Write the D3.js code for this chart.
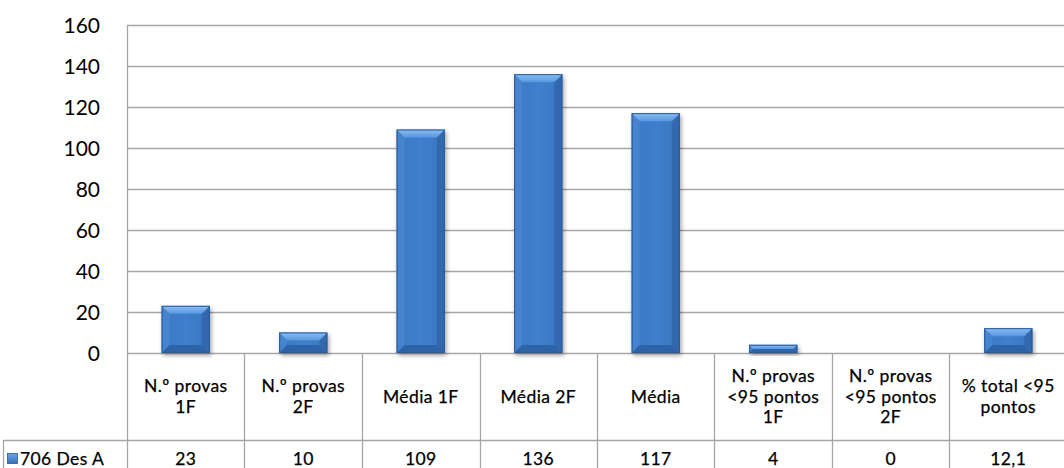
<!DOCTYPE html>
<html>
<head>
<meta charset="utf-8">
<script src="https://cdn.jsdelivr.net/npm/d3@7"></script>
<style>
  html, body { margin: 0; padding: 0; background: #fff; }
  svg { display: block; }
  text { font-family: Lato, "Open Sans", sans-serif; fill: #000; }
</style>
</head>
<body>
<svg id="chart" width="1064" height="468"></svg>
<script>
// Chart data
const categories = [
  ["N.º provas", "1F"],
  ["N.º provas", "2F"],
  ["Média 1F"],
  ["Média 2F"],
  ["Média"],
  ["N.º provas", "<95 pontos", "1F"],
  ["N.º provas", "<95 pontos", "2F"],
  ["% total <95", "pontos"]
];
const values = [23, 10, 109, 136, 117, 4, 0, 12.1];
const seriesName = "706 Des A";
const yTicks = [0, 20, 40, 60, 80, 100, 120, 140, 160];

const ptFormat = d3.formatLocale({decimal: ",", thousands: ".", grouping: [3], currency: ["", " €"]}).format("~f");

const svg = d3.select("#chart");
const W = 1064, H = 468;
const plotLeft = 127, plotRight = 1067, plotTop = 25, plotBottom = 353;
const headerBottom = 440, tableLeft = 3;
const gridColor = "#a6a6a6";
const tableFont = 17.5;
const tableSpacing = "0.4px";

const keys = categories.map((c, i) => i);
const x = d3.scaleBand().domain(keys).range([plotLeft, plotRight])
  .paddingInner(0.59).paddingOuter(0.295);
const y = d3.scaleLinear().domain([0, 160]).range([plotBottom, plotTop]);
const step = x.step();

// Definitions: shadow and gradients for the bevelled bars
const defs = svg.append("defs");
const shadow = defs.append("filter").attr("id", "shadow")
  .attr("x", "-30%").attr("y", "-30%").attr("width", "160%").attr("height", "160%");
shadow.append("feDropShadow").attr("dx", 1.5).attr("dy", 2.5)
  .attr("stdDeviation", 2).attr("flood-color", "#000").attr("flood-opacity", 0.35);

const topGrad = defs.append("linearGradient").attr("id", "topGrad")
  .attr("x1", 0).attr("y1", 0).attr("x2", 0).attr("y2", 1);
topGrad.append("stop").attr("offset", "0%").attr("stop-color", "#8cc0f4");
topGrad.append("stop").attr("offset", "100%").attr("stop-color", "#5696e0");

const faceGrad = defs.append("linearGradient").attr("id", "faceGrad")
  .attr("x1", 0).attr("y1", 0).attr("x2", 1).attr("y2", 0);
faceGrad.append("stop").attr("offset", "0%").attr("stop-color", "#3b78c2");
faceGrad.append("stop").attr("offset", "50%").attr("stop-color", "#3f7fcc");
faceGrad.append("stop").attr("offset", "100%").attr("stop-color", "#3a76c0");

const keyGrad = defs.append("linearGradient").attr("id", "keyGrad")
  .attr("x1", 0).attr("y1", 0).attr("x2", 0).attr("y2", 1);
keyGrad.append("stop").attr("offset", "0%").attr("stop-color", "#6ea6e8");
keyGrad.append("stop").attr("offset", "100%").attr("stop-color", "#3670b8");

// Gridlines
svg.append("g").selectAll("line").data(yTicks).join("line")
  .attr("x1", plotLeft).attr("x2", W + 5)
  .attr("y1", d => Math.round(y(d)) + 0.5).attr("y2", d => Math.round(y(d)) + 0.5)
  .attr("stroke", gridColor).attr("stroke-width", 1.3);

// Y axis labels
const yAxis = d3.axisLeft(y).tickValues(yTicks).tickSize(0).tickPadding(27);
const gy = svg.append("g").attr("transform", `translate(${plotLeft},0)`).call(yAxis);
gy.select(".domain").remove();
gy.selectAll("text").attr("font-size", 21).attr("font-family", "Lato, sans-serif")
  .attr("fill", "#000").attr("dy", "0.34em");

// Bars
const bars = svg.append("g").selectAll("g").data(values).join("g")
  .attr("filter", "url(#shadow)");
bars.each(function(v, i) {
  const g = d3.select(this);
  const bx = x(i), bw = x.bandwidth();
  const by = y(v), bh = y(0) - y(v);
  if (bh <= 0) return;
  const b = Math.min(8, bh / 2, bw / 2);
  g.append("rect").attr("x", bx).attr("y", by).attr("width", bw).attr("height", bh)
    .attr("fill", "url(#faceGrad)");
  // left bevel
  g.append("polygon").attr("points",
    [[bx, by], [bx + b, by + b], [bx + b, by + bh - b], [bx, by + bh]].join(" "))
    .attr("fill", "#4684cf");
  // right bevel
  g.append("polygon").attr("points",
    [[bx + bw, by], [bx + bw - b, by + b], [bx + bw - b, by + bh - b], [bx + bw, by + bh]].join(" "))
    .attr("fill", "#3369ae");
  // bottom bevel
  g.append("polygon").attr("points",
    [[bx, by + bh], [bx + b, by + bh - b], [bx + bw - b, by + bh - b], [bx + bw, by + bh]].join(" "))
    .attr("fill", "#2f64a8");
  // top bevel
  g.append("polygon").attr("points",
    [[bx, by], [bx + bw, by], [bx + bw - b, by + b], [bx + b, by + b]].join(" "))
    .attr("fill", "url(#topGrad)");
  g.append("rect").attr("x", bx + 0.5).attr("y", by + 0.5).attr("width", bw - 1).attr("height", bh - 1)
    .attr("fill", "none").attr("stroke", "#2a5a98").attr("stroke-width", 1);
});

// Data table lines
const table = svg.append("g").attr("stroke", gridColor).attr("stroke-width", 1.3);
// vertical axis line across plot and table
table.append("line").attr("x1", plotLeft + 0.5).attr("x2", plotLeft + 0.5)
  .attr("y1", plotTop).attr("y2", H + 5);
// column separators
keys.forEach(i => {
  const cx = Math.round(x(i) + x.bandwidth() + step * x.paddingInner() / 2) + 0.5;
  table.append("line").attr("x1", cx).attr("x2", cx).attr("y1", plotBottom).attr("y2", H + 5);
});
// row line between header and values
table.append("line").attr("x1", tableLeft).attr("x2", W + 5)
  .attr("y1", headerBottom + 0.5).attr("y2", headerBottom + 0.5);
table.append("line").attr("x1", tableLeft + 0.5).attr("x2", tableLeft + 0.5)
  .attr("y1", headerBottom).attr("y2", H + 5);

// Category header labels
const headerMid = (plotBottom + headerBottom) / 2;
const lineH = 20.5;
svg.append("g").selectAll("text").data(categories).join("text")
  .attr("text-anchor", "middle").attr("font-size", tableFont)
  .attr("letter-spacing", tableSpacing).attr("stroke", "#000").attr("stroke-width", 0.25)
  .attr("x", (d, i) => x(i) + x.bandwidth() / 2)
  .each(function(lines) {
    const t = d3.select(this);
    const y0 = headerMid - (lines.length - 1) * lineH / 2;
    lines.forEach((l, k) => {
      t.append("tspan").attr("x", t.attr("x")).attr("y", y0 + k * lineH).attr("dy", "0.35em").text(l);
    });
  });

// Value row
const rowMid = 459;
svg.append("g").selectAll("text").data(values).join("text")
  .attr("text-anchor", "middle").attr("font-size", tableFont)
  .attr("letter-spacing", tableSpacing).attr("stroke", "#000").attr("stroke-width", 0.25)
  .attr("x", (d, i) => x(i) + x.bandwidth() / 2)
  .attr("y", rowMid).attr("dy", "0.35em")
  .text(d => ptFormat(d));

// Legend key and series name
svg.append("rect").attr("x", 7.5).attr("y", rowMid - 5.5).attr("width", 10).attr("height", 10)
  .attr("fill", "url(#keyGrad)").attr("stroke", "#2a5a98").attr("stroke-width", 0.8);
svg.append("text").attr("x", 20).attr("y", rowMid).attr("dy", "0.35em")
  .attr("font-size", tableFont).attr("letter-spacing", tableSpacing)
  .attr("stroke", "#000").attr("stroke-width", 0.25).text(seriesName);
</script>
</body>
</html>
